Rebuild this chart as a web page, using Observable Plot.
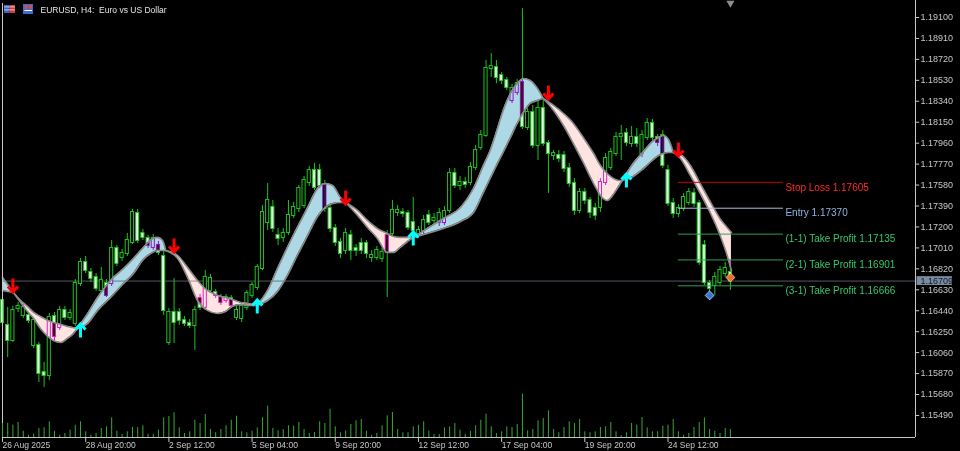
<!DOCTYPE html>
<html><head><meta charset="utf-8">
<script src="https://cdn.jsdelivr.net/npm/d3@7"></script>
<script src="https://cdn.jsdelivr.net/npm/@observablehq/plot@0.6"></script>
<style>
html,body{margin:0;padding:0;background:#000;overflow:hidden}
#wrap{position:relative;width:960px;height:451px;background:#000}
#wrap svg{position:absolute;left:0;top:0}
</style></head><body><div id="wrap"></div>
<script>
// ---------- data ----------
const titleText = "EURUSD, H4:\u00a0 Euro vs US Dollar";
const opens = [
1.16533,1.16306,1.16170,1.16460,1.16397,1.16397,1.16125,1.16125,1.15880,1.15853,
1.16388,1.16288,1.16442,1.16379,1.16325,1.16687,1.16878,1.16787,1.16742,1.16624,
1.16687,1.16687,1.17005,1.16923,1.16959,1.17059,1.17322,1.17141,1.17096,1.17014,
1.17032,1.16932,1.16152,1.16424,1.16424,1.16352,1.16325,1.16306,1.16551,1.16470,
1.16624,1.16606,1.16560,1.16533,1.16551,1.16379,1.16370,1.16470,1.16579,1.16651,
1.16823,1.17240,1.17377,1.17123,1.17105,1.17150,1.17304,1.17367,1.17395,1.17603,
1.17712,1.17712,1.17576,1.17367,1.17186,1.17059,1.16987,1.17123,1.17005,1.17050,
1.17050,1.16923,1.16923,1.16914,1.17123,1.17141,1.17331,1.17331,1.17322,1.17240,
1.17141,1.17168,1.17304,1.17259,1.17240,1.17240,1.17349,1.17685,1.17576,1.17603,
1.17603,1.17740,1.17921,1.18030,1.18637,1.18646,1.18574,1.18528,1.18347,1.18420,
1.18510,1.18102,1.18238,1.17939,1.18275,1.17957,1.17848,1.17848,1.17848,1.17730,
1.17594,1.17349,1.17513,1.17440,1.17367,1.17377,1.17603,1.17740,1.17866,1.18021,
1.18048,1.17957,1.18012,1.17866,1.18012,1.18139,1.18012,1.18030,1.17712,1.17413,
1.17322,1.17367,1.17422,1.17504,1.17413,1.17032,1.16687,1.16669,1.16696,1.16778,
1.16787];
const highs = [
1.16642,1.16470,1.16479,1.16515,1.16497,1.16424,1.16370,1.16152,1.15971,1.16415,
1.16424,1.16479,1.16479,1.16451,1.16723,1.16914,1.16932,1.16823,1.16778,1.16833,
1.16723,1.17077,1.17032,1.16996,1.17141,1.17359,1.17359,1.17177,1.17123,1.17132,
1.17068,1.16987,1.16460,1.16733,1.16460,1.16388,1.16361,1.16479,1.16588,1.16805,
1.16769,1.16633,1.16588,1.16588,1.16579,1.16479,1.16515,1.16624,1.16696,1.16860,
1.17395,1.17594,1.17440,1.17186,1.17186,1.17440,1.17422,1.17576,1.17658,1.17749,
1.17776,1.17767,1.17622,1.17404,1.17223,1.17096,1.17186,1.17168,1.17041,1.17096,
1.17077,1.16987,1.17023,1.17005,1.17168,1.17440,1.17395,1.17367,1.17349,1.17467,
1.17204,1.17304,1.17349,1.17322,1.17367,1.17386,1.17730,1.17730,1.17658,1.17649,
1.17785,1.17939,1.18075,1.18710,1.18773,1.18710,1.18601,1.18556,1.18492,1.18537,
1.19181,1.18275,1.18302,1.18347,1.18347,1.17984,1.17894,1.17894,1.17885,1.17776,
1.17640,1.17549,1.17549,1.17467,1.17413,1.17640,1.17866,1.17912,1.18057,1.18120,
1.18093,1.18111,1.18093,1.18075,1.18184,1.18175,1.18039,1.18075,1.17758,1.17458,
1.17404,1.17504,1.17549,1.17549,1.17440,1.17077,1.16715,1.16787,1.16842,1.16878,
1.16896];
const lows = [
1.16261,1.16016,1.16152,1.16424,1.16370,1.16325,1.16098,1.15789,1.15744,1.15808,
1.16170,1.16261,1.16352,1.16352,1.16297,1.16660,1.16778,1.16696,1.16615,1.16597,
1.16560,1.16660,1.16842,1.16887,1.16932,1.17041,1.17050,1.17077,1.17005,1.16987,
1.16941,1.16397,1.16125,1.16143,1.16306,1.16297,1.16279,1.16079,1.16442,1.16442,
1.16597,1.16551,1.16488,1.16506,1.16460,1.16352,1.16333,1.16442,1.16551,1.16624,
1.16805,1.17168,1.17150,1.17032,1.17059,1.17123,1.17277,1.17331,1.17367,1.17567,
1.17531,1.17549,1.17331,1.17150,1.17023,1.16914,1.16950,1.16896,1.16932,1.16950,
1.16914,1.16878,1.16896,1.16878,1.16560,1.17114,1.17295,1.17286,1.17168,1.17123,
1.17096,1.17132,1.17213,1.17223,1.17204,1.17213,1.17322,1.17549,1.17531,1.17549,
1.17576,1.17712,1.17894,1.18012,1.18556,1.18501,1.18492,1.18438,1.18320,1.18392,
1.18084,1.18075,1.17912,1.17803,1.17930,1.17504,1.17803,1.17785,1.17694,1.17558,
1.17304,1.17322,1.17404,1.17277,1.17259,1.17331,1.17576,1.17712,1.17839,1.17803,
1.17930,1.17921,1.17921,1.17830,1.17984,1.17984,1.17930,1.17730,1.17386,1.17277,
1.17286,1.17340,1.17395,1.17377,1.16851,1.16669,1.16533,1.16579,1.16669,1.16742,
1.16624];
const closes = [
1.16333,1.16170,1.16442,1.16479,1.16470,1.16352,1.16352,1.15871,1.15853,1.16379,
1.16206,1.16442,1.16379,1.16415,1.16687,1.16878,1.16805,1.16733,1.16642,1.16715,
1.16579,1.17005,1.16869,1.16959,1.17077,1.17331,1.17077,1.17105,1.17032,1.17096,
1.16969,1.16442,1.16424,1.16333,1.16352,1.16325,1.16306,1.16442,1.16470,1.16742,
1.16733,1.16579,1.16515,1.16560,1.16488,1.16442,1.16479,1.16597,1.16669,1.16833,
1.17331,1.17440,1.17186,1.17096,1.17141,1.17304,1.17377,1.17549,1.17622,1.17712,
1.17558,1.17576,1.17367,1.17186,1.17059,1.16959,1.17141,1.16987,1.16987,1.16987,
1.16959,1.16941,1.16987,1.16969,1.16969,1.17349,1.17349,1.17322,1.17195,1.17168,
1.17168,1.17259,1.17240,1.17277,1.17322,1.17340,1.17685,1.17576,1.17603,1.17585,
1.17740,1.17894,1.18030,1.18637,1.18655,1.18556,1.18528,1.18465,1.18456,1.18501,
1.18111,1.18238,1.17939,1.18275,1.17957,1.17866,1.17866,1.17821,1.17730,1.17594,
1.17349,1.17513,1.17440,1.17331,1.17304,1.17603,1.17821,1.17876,1.18012,1.18039,
1.17966,1.18012,1.17957,1.18030,1.18139,1.18012,1.17966,1.17758,1.17413,1.17322,
1.17367,1.17467,1.17513,1.17413,1.16878,1.16696,1.16642,1.16742,1.16805,1.16823,
1.16709];
const volumes = [
14000,14000,12300,15000,6300,2300,3300,9000,9700,15700,
6300,2300,4000,7300,12300,15700,5700,2300,4000,9000,
10700,19700,6300,3000,5700,10000,10000,11700,3300,3300,
7300,19700,21000,24700,9700,4000,5700,17300,14000,23000,
8000,4700,8000,11700,17300,21300,5700,4700,6300,9700,
19700,31300,9000,6700,8000,11700,11300,15000,8000,4000,
5000,15700,14000,28300,10700,4700,6700,13000,16700,18000,
6300,2300,4000,11700,21700,25000,8000,4700,4700,10700,
12300,15700,6300,3000,3000,9700,10700,14000,7300,3300,
6300,11700,17300,23300,10700,4000,5700,10700,10000,13000,
43300,6700,8000,16700,19000,26700,8000,4700,10000,15700,
14000,18000,5700,4700,5700,10000,10700,15000,5700,1700,
4700,14000,12300,20000,9700,5700,5700,11300,12300,18000,
5700,2300,4000,10000,15000,19700,8000,6300,4000,9000,
8000];
const timeTickIdx = [0,16,32,48,64,80,96,112,128];
const timeLabels = ["26 Aug 2025","28 Aug 20:00","2 Sep 12:00","5 Sep 04:00","9 Sep 20:00","12 Sep 12:00","17 Sep 04:00","19 Sep 20:00","24 Sep 12:00"];
const priceTicks = [1.19100,1.18910,1.18720,1.18530,1.18340,1.18150,1.17960,1.17770,1.17580,1.17390,1.17200,1.17010,1.16820,1.16630,1.16440,1.16250,1.16060,1.15870,1.15680,1.15490];
// ribbon (fast / slow smoothed lines), sampled along the bars
const ribbonIdx = [0,1.0,2.1, 3.5,4.8,6.0,7.3,8.7,9.8,11.2,12.5,13.5,14.4,
 16.4,18.3,20.8,23.3,25.2,27.1,28.9,29.8,30.8,31.4,
 33.7,35.6,37.5,39.4,41.4,42.9,44.2,45.8,47.3,48.9,
 51.0,52.9,54.8,56.7,58.7,60.6,62.1,63.5,65.0,66.0,
 68.3,70.2,72.1,74.0,75.2,76.5,77.9,79.0,
 81.7,84.8,88.1,90.6,92.5,93.8,95.2,96.3,97.7,99.0,100.2,101.5,102.9,104.0,
 106.0,107.9,109.8,111.7,113.7,115.0,116.3,117.5,118.5,119.2,
 121.3,123.3,125.0,126.2,127.1,128.1,129.0,
 130.4,132.3,134.2,136.2,138.1,139.2,140.2];
const ribbonFast = [1.16742,1.16678,1.16606, 1.16515,1.16433,1.16370,1.16279,1.16207,1.16170,1.16152,1.16189,1.16225,1.16279,
 1.16415,1.16560,1.16715,1.16823,1.16914,1.17014,1.17096,1.17105,1.17077,1.16987,
 1.16914,1.16742,1.16533,1.16443,1.16415,1.16433,1.16479,1.16497,1.16488,1.16488,
 1.16624,1.16823,1.17014,1.17195,1.17377,1.17549,1.17594,1.17576,1.17467,1.17422,
 1.17304,1.17195,1.17096,1.16969,1.16969,1.17014,1.17068,1.17105,
 1.17186,1.17277,1.17377,1.17549,1.17758,1.17894,1.18093,1.18257,1.18411,1.18501,1.18547,1.18529,1.18456,1.18365,
 1.18257,1.18120,1.17957,1.17785,1.17594,1.17486,1.17440,1.17495,1.17567,1.17622,
 1.17776,1.17885,1.17975,1.18012,1.18030,1.17993,1.17876,
 1.17821,1.17667,1.17504,1.17322,1.17114,1.16969,1.16805];
const ribbonSlow = [1.16624,1.16615,1.16606, 1.16533,1.16479,1.16424,1.16388,1.16352,1.16334,1.16316,1.16297,1.16288,1.16279,
 1.16325,1.16443,1.16560,1.16687,1.16778,1.16905,1.16969,1.16987,1.16987,1.16987,
 1.16941,1.16833,1.16715,1.16624,1.16579,1.16560,1.16542,1.16515,1.16506,1.16488,
 1.16533,1.16615,1.16760,1.16941,1.17123,1.17295,1.17377,1.17413,1.17422,1.17422,
 1.17350,1.17259,1.17186,1.17141,1.17114,1.17105,1.17105,1.17105,
 1.17141,1.17186,1.17250,1.17331,1.17513,1.17640,1.17776,1.17876,1.18012,1.18139,1.18238,1.18320,1.18347,1.18365,
 1.18302,1.18229,1.18139,1.18012,1.17866,1.17758,1.17685,1.17640,1.17622,1.17622,
 1.17658,1.17730,1.17803,1.17848,1.17866,1.17876,1.17876,
 1.17857,1.17758,1.17594,1.17422,1.17268,1.17204,1.17150];
const sellIdx = [2,33,66,105,130];
const sellPrice = [1.16597,1.16959,1.17395,1.18347,1.17830];
const buyIdx = [15,49,79,120];
const buyPrice = [1.16334,1.16551,1.17168,1.17694];
const levelNames = ["Stop Loss","Entry","(1-1) Take Profit","(2-1) Take Profit","(3-1) Take Profit"];
const levelPrices = [1.17605,1.17370,1.17135,1.16901,1.16666];
const levelStartIdx = 130;
const levelEndIdx = 150.2;
const entryMarkIdx = 136, entryMarkPrice = 1.16579;
const exitMarkIdx = 140, exitMarkPrice = 1.16742;
const lastPrice = 1.16709;

// ---------- styles / layout ----------
const W = 960, H = 451;
const M = {left: 2, right: 45, top: 3, bottom: 14};
const xDomain = [0, 175.6];
const yDomain = [1.15290, 1.19227];
const GREEN = "#1fc21f";
const AXIS = "#c8c8c8";
const FONT = "'Liberation Sans', Arial, sans-serif";
const levelStroke = ["#c80000","#a9bedb","#2e9e58","#2e9e58","#2e9e58"];
const levelText = ["#ff2b2b","#8fb4e2","#35c86a","#35c86a","#35c86a"];

const candles = opens.map((o, i) => ({i, o, h: highs[i], l: lows[i], c: closes[i], v: volumes[i]}));
const bulls = candles.filter(d => d.c >= d.o);
const bears = candles.filter(d => d.c < d.o);

// split ribbon into segments at crossings
const rib = ribbonIdx.map((x, k) => ({x, f: ribbonFast[k], s: ribbonSlow[k]}));
const segs = []; let cur = [rib[0]];
for (let k = 1; k < rib.length; k++) {
  cur.push(rib[k]);
  if (rib[k].f === rib[k].s) { segs.push(cur); cur = [rib[k]]; }
}
if (cur.length > 1) segs.push(cur);
const ribPts = segs.flatMap((seg, n) => {
  const up = seg.some(p => p.f > p.s);
  return seg.map(p => ({...p, seg: n, up}));
});

const arrowDown = {draw(ctx) { ctx.moveTo(0, -7.5); ctx.lineTo(0, 6); ctx.moveTo(-5, 0.5); ctx.lineTo(0, 6); ctx.lineTo(5, 0.5); }};
const arrowUp = {draw(ctx) { ctx.moveTo(0, 7.5); ctx.lineTo(0, -6); ctx.moveTo(-5, -0.5); ctx.lineTo(0, -6); ctx.lineTo(5, -0.5); }};
const sells = sellIdx.map((i, k) => ({i, p: sellPrice[k]}));
const buys = buyIdx.map((i, k) => ({i, p: buyPrice[k]}));
const levels = levelNames.map((n, k) => ({n, p: levelPrices[k], k}));

const xMax = xDomain[1], yMin = yDomain[0], yMax = yDomain[1];

const main = Plot.plot({
  width: W, height: H,
  marginLeft: M.left, marginRight: M.right, marginTop: M.top, marginBottom: M.bottom,
  x: {domain: xDomain, axis: null},
  y: {domain: yDomain, axis: null},
  style: {background: "#000", fontFamily: FONT, color: AXIS, overflow: "visible"},
  marks: [
    Plot.ruleY([lastPrice], {stroke: "#565664", strokeWidth: 1}),
    Plot.ruleX(candles, {x: "i", y1: "l", y2: "h", stroke: GREEN, strokeWidth: 1}),
    Plot.rect(bulls, {x1: d => d.i - 0.3, x2: d => d.i + 0.3, y1: "o", y2: "c", fill: "#000", stroke: GREEN, strokeWidth: 1, insetTop: -0.5, insetBottom: -0.5}),
    Plot.rect(bears, {x1: d => d.i - 0.3, x2: d => d.i + 0.3, y1: "o", y2: "c", fill: "#e2f7e2", stroke: GREEN, strokeWidth: 1, insetTop: -0.5, insetBottom: -0.5}),
    Plot.areaY(ribPts.filter(d => d.up), {x: "x", y1: "f", y2: "s", z: "seg", fill: "#add8e6", curve: "monotone-x", mixBlendMode: "difference"}),
    Plot.areaY(ribPts.filter(d => !d.up), {x: "x", y1: "f", y2: "s", z: "seg", fill: "#ffe4e1", curve: "monotone-x", mixBlendMode: "difference"}),
    Plot.line(ribPts, {x: "x", y: "f", z: "seg", stroke: "#8a8a8a", strokeWidth: 1.6, curve: "monotone-x"}),
    Plot.line(ribPts, {x: "x", y: "s", z: "seg", stroke: "#8a8a8a", strokeWidth: 1.6, curve: "monotone-x"}),
    Plot.dot(sells, {x: "i", y: "p", symbol: arrowDown, fill: "none", stroke: "#ff0000", strokeWidth: 3, dy: -7.5, r: 5}),
    Plot.dot(buys, {x: "i", y: "p", symbol: arrowUp, fill: "none", stroke: "#00ffff", strokeWidth: 3, dy: 7.5, r: 5}),
    Plot.ruleY(levels, {y: "p", x1: levelStartIdx, x2: levelEndIdx, stroke: d => levelStroke[d.k], strokeWidth: 1}),
    Plot.text(levels, {x: levelEndIdx, y: "p", text: d => `${d.n} ${d.p.toFixed(5)}`, fill: d => levelText[d.k], textAnchor: "start", dx: 2, dy: 5, fontSize: 10}),
    Plot.dot([{i: entryMarkIdx, p: entryMarkPrice}], {x: "i", y: "p", symbol: "diamond2", r: 4, fill: "#3479d8", stroke: "#cfe0ff", strokeWidth: 0.8}),
    Plot.dot([{i: exitMarkIdx, p: exitMarkPrice}], {x: "i", y: "p", symbol: "diamond2", r: 4, fill: "#f06a28", stroke: "#ffd0b0", strokeWidth: 0.8}),
    // frame
    Plot.ruleX([xDomain[0]], {stroke: AXIS}),
    Plot.ruleX([xMax], {y1: yMin, y2: yMax + 0.0003, stroke: AXIS}),
    Plot.ruleY([yMin], {stroke: AXIS}),
    // price axis
    Plot.ruleY(priceTicks, {x1: xMax, x2: xMax + 0.8, stroke: AXIS}),
    Plot.text(priceTicks, {x: xMax, y: d => d, text: d => d.toFixed(5), textAnchor: "start", dx: 5, fill: AXIS, fontSize: 9}),
    Plot.rect([lastPrice], {x1: xMax + 0.3, x2: xMax + 7.1, y1: d => d - 0.00040, y2: d => d + 0.00040, fill: "#7b8da1"}),
    Plot.text([lastPrice], {x: xMax, y: d => d, text: d => d.toFixed(5), textAnchor: "start", dx: 5, fill: "#0d1722", fontSize: 9}),
    // time axis
    Plot.ruleX(timeTickIdx, {x: d => d, y1: yMin, y2: yMin - 0.00045, stroke: AXIS}),
    Plot.text(timeTickIdx, {x: d => d, y: yMin, text: (d, k) => timeLabels[k], textAnchor: "start", dy: 7.5, fill: AXIS, fontSize: 8.5}),
    // chart shift marker & title
    Plot.dot([candles.length - 1], {x: d => d, y: yMax, symbol: "triangle", rotate: 180, r: 3, fill: "#8c8c8c", dy: -0.5}),
    Plot.text([titleText], {frameAnchor: "top-left", dx: 38, dy: 3, textAnchor: "start", fill: "#e6e6e6", fontSize: 8.5})
  ]
});

const vol = Plot.plot({
  width: W, height: H,
  marginLeft: M.left, marginRight: M.right, marginTop: M.top, marginBottom: M.bottom,
  x: {domain: xDomain, axis: null},
  y: {domain: [0, 434000], axis: null},
  style: {background: "transparent"},
  marks: [
    Plot.ruleX(candles, {x: "i", y1: 0, y2: "v", stroke: "#38a838", strokeWidth: 1})
  ]
});

const wrap = document.getElementById("wrap");
wrap.appendChild(main);
wrap.appendChild(vol);

// small symbol icons next to the title
const svg = d3.select(main);
const g = svg.append("g");
g.append("rect").attr("x", 4).attr("y", 5).attr("width", 5.5).attr("height", 8).attr("fill", "#3a62c8");
g.append("rect").attr("x", 9.5).attr("y", 5).attr("width", 5.5).attr("height", 8).attr("fill", "#d43c3c");
[6.5, 9.5].forEach(y => g.append("rect").attr("x", 4).attr("y", y).attr("width", 11).attr("height", 0.8).attr("fill", "#e8e8e8"));
g.append("rect").attr("x", 23).attr("y", 4).attr("width", 10).attr("height", 10).attr("fill", "#3570d0");
g.append("rect").attr("x", 24.5).attr("y", 5).attr("width", 3).attr("height", 4).attr("fill", "#e04848");
g.append("rect").attr("x", 29).attr("y", 5).attr("width", 3).attr("height", 4).attr("fill", "#e04848");
g.append("rect").attr("x", 24.5).attr("y", 10).attr("width", 7.5).attr("height", 1).attr("fill", "#ffffff");
</script>
</body></html>
